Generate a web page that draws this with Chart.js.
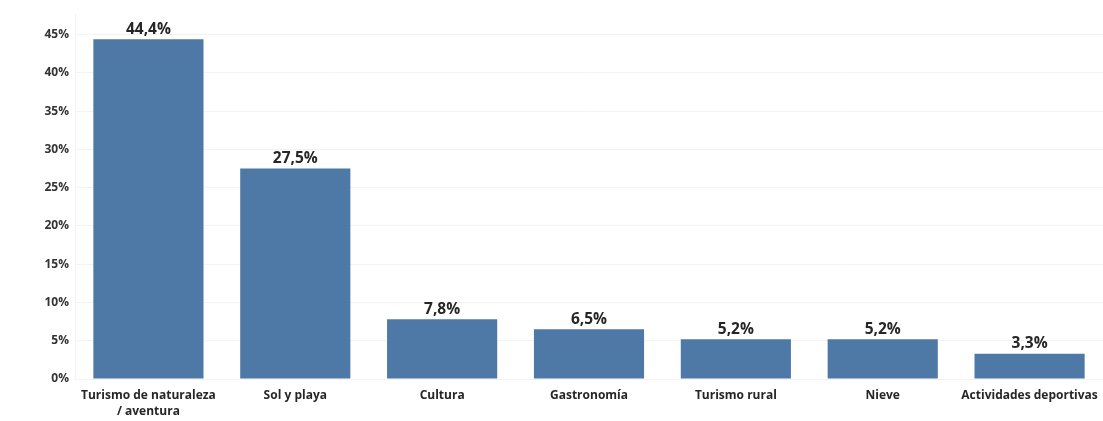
<!DOCTYPE html>
<html>
<head>
<meta charset="utf-8">
<script src="https://cdn.jsdelivr.net/npm/chart.js@4.4.0/dist/chart.umd.min.js"></script>
<style>
  html, body { margin: 0; padding: 0; background: #fff; }
  #wrap { width: 1103px; height: 421px; position: relative; }
</style>
</head>
<body>
<div id="wrap"><canvas id="myChart"></canvas></div>
<script>
const categories = [['Turismo de naturaleza', '/ aventura'], 'Sol y playa', 'Cultura', 'Gastronomía', 'Turismo rural', 'Nieve', 'Actividades deportivas'];
const shares = [44.4, 27.5, 7.8, 6.5, 5.2, 5.2, 3.3]; // percent
const yTicks = [0, 5, 10, 15, 20, 25, 30, 35, 40, 45];

// value labels over each bar, "44,4%" style
const valueLabels = {
    id: 'valueLabels',
    afterDatasetsDraw(chart) {
        const ctx = chart.ctx;
        const meta = chart.getDatasetMeta(0);
        ctx.save();
        ctx.font = 'bold 15.5px "Open Sans"';
        ctx.fillStyle = '#262626';
        ctx.textAlign = 'center';
        ctx.textBaseline = 'bottom';
        meta.data.forEach((bar, i) => {
            ctx.fillText(shares[i].toFixed(1).replace('.', ',') + '%', bar.x, bar.y - 2);
        });
        ctx.restore();
    }
};

const ctx = document.getElementById('myChart').getContext('2d');
const myChart = new Chart(ctx, {
    type: 'bar',
    data: {
        labels: categories,
        datasets: [{
            data: shares,
            backgroundColor: '#4e78a6',
            barPercentage: 0.75,
            categoryPercentage: 1
        }]
    },
    options: {
        responsive: true,
        maintainAspectRatio: false,
        animation: false,
        layout: { padding: { top: 9, right: 0, bottom: 0, left: 0 } },
        plugins: { legend: { display: false }, tooltip: { enabled: false } },
        scales: {
            x: {
                grid: { display: false },
                border: { display: false },
                ticks: {
                    color: '#262626',
                    font: { family: 'Open Sans', size: 12, weight: 'bold', lineHeight: 1.3 },
                    padding: 1,
                    maxRotation: 0,
                    autoSkip: false
                },
                afterFit(scale) { scale.height = 42; }
            },
            y: {
                min: 0,
                max: 47.8,
                afterBuildTicks(axis) { axis.ticks = yTicks.map(v => ({ value: v })); },
                grid: { color: '#f3f3f3', drawTicks: false },
                border: { color: '#f3f3f3' },
                ticks: {
                    color: '#333333',
                    font: { family: 'Open Sans', size: 12, weight: 'bold' },
                    padding: 6,
                    callback: v => v + '%'
                },
                afterFit(scale) { scale.width = 75; }
            }
        }
    },
    plugins: [valueLabels]
});
</script>
</body>
</html>
